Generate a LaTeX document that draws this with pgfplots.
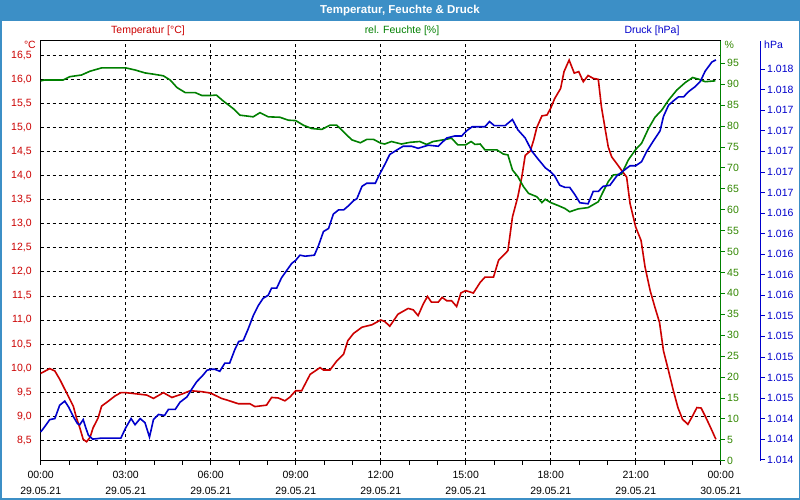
\documentclass[border=0pt]{standalone}
\usepackage{pgfplots}
\pgfplotsset{compat=1.18}
\usepackage{fontspec}
\setmainfont{Liberation Sans}

\definecolor{titleblue}{RGB}{60,143,198}
\definecolor{tred}{RGB}{204,0,0}
\definecolor{tgreen}{RGB}{0,128,0}
\definecolor{tgreenlbl}{RGB}{50,135,0}
\definecolor{tblue}{RGB}{0,0,204}
\newcommand\lf{\fontsize{10.5}{16}\selectfont}

\pgfplotsset{
  common/.style={
    at={(40.7pt,39.3pt)}, anchor=south west,
    scale only axis, height=420pt,
    ymajorgrids=false, xmajorgrids=false,
    tick align=outside,
    major tick length=4pt, minor tick length=4pt,
    tick label style={font=\lf},
    /pgf/number format/assume math mode=true,
    clip=false,
  },
}

\begin{document}
\begin{tikzpicture}[x=1pt,y=1pt]
\useasboundingbox (0,0) rectangle (800,500);
\fill[white] (0,0) rectangle (800,500);
\fill[titleblue] (0,479) rectangle (800,500);
\node[white, font=\bfseries\fontsize{11.5}{13}\selectfont] at (400,489.5) {Temperatur, Feuchte \& Druck};
\draw[titleblue, line width=1.5pt] (0.75,0.75) rectangle (799.25,499.25);

% temperature
\begin{axis}[common,
  width=680pt,
  xmin=0, xmax=24, ymin=8.076, ymax=16.803,
  axis line style={black, line width=1pt},
  xtick={0,3,...,24},
  minor xtick={1,2,4,5,7,8,10,11,13,14,16,17,19,20,22,23},
  xtick pos=left,
  xtick style={black, line width=0.8pt},
  xticklabels={{00:00\\29.05.21},{03:00\\29.05.21},{06:00\\29.05.21},{09:00\\29.05.21},{12:00\\29.05.21},{15:00\\29.05.21},{18:00\\29.05.21},{21:00\\29.05.21},{00:00\\30.05.21}},
  xticklabel style={align=center, yshift=-3pt},
  ytick={8.5,9,...,16.5},
  ytick style={draw=none},
  yticklabel style={text=tred, xshift=-1.5pt, /pgf/number format/.cd, fixed, fixed zerofill, precision=1, use comma},
  xmajorgrids=true, ymajorgrids=true,
  grid style={black, line width=0.8pt, dash pattern=on 3pt off 3pt},
]
\addplot[tred, line width=1.6pt] coordinates {
(0.00,9.89) (0.32,9.99) (0.50,9.94) (0.67,9.77) (0.91,9.49) (1.15,9.21) (1.26,8.97)
(1.38,8.76) (1.50,8.52) (1.62,8.47) (1.74,8.56) (1.85,8.76) (2.03,8.97) (2.15,9.21)
(2.38,9.31) (2.62,9.42) (2.83,9.49) (3.00,9.49) (3.45,9.46) (3.74,9.44) (3.98,9.37)
(4.33,9.49) (4.63,9.39) (4.98,9.46) (5.28,9.53) (5.69,9.51) (6.00,9.48)
(6.38,9.37) (6.61,9.33) (6.97,9.26) (7.38,9.26) (7.56,9.20) (7.97,9.23) (8.15,9.39)
(8.38,9.38) (8.62,9.32) (8.80,9.40) (9.00,9.53) (9.21,9.53) (9.51,9.87) (9.86,10.01)
(9.98,9.96) (10.21,9.96) (10.45,10.15) (10.69,10.29) (10.84,10.57) (11.04,10.72)
(11.34,10.85) (11.69,10.90) (12.00,11.00)
(12.14,10.97) (12.32,10.87) (12.61,11.12) (12.97,11.24) (13.15,11.21) (13.32,11.09)
(13.50,11.33) (13.65,11.49) (13.79,11.37) (14.03,11.37) (14.17,11.47) (14.33,11.40)
(14.50,11.40) (14.68,11.28) (14.83,11.56) (15.00,11.61) (15.27,11.56) (15.51,11.78)
(15.68,11.89) (15.98,11.89) (16.16,12.24) (16.49,12.44) (16.65,13.14) (16.84,13.56)
(16.98,13.97) (17.10,14.42) (17.28,14.51) (17.40,14.74) (17.51,15.00) (17.69,15.24)
(17.87,15.26) (18.00,15.40)
(18.14,15.60) (18.35,15.81) (18.47,16.16) (18.65,16.40) (18.83,16.13) (18.99,16.16)
(19.15,15.95) (19.32,16.08) (19.50,16.02) (19.68,16.00) (19.79,15.43) (19.91,15.01)
(20.03,14.60) (20.15,14.39) (20.33,14.25) (20.50,14.11) (20.68,13.97) (20.80,13.42)
(21.00,12.93) (21.19,12.65) (21.33,12.10) (21.51,11.61) (21.68,11.26) (21.84,10.95)
(21.98,10.36) (22.16,9.94) (22.33,9.53) (22.49,9.18) (22.65,8.94) (22.84,8.83)
(23.01,9.01) (23.16,9.18) (23.31,9.17) (23.48,8.97) (23.67,8.73) (23.83,8.52)
};
\end{axis}

% humidity
\begin{axis}[common,
  width=680pt,
  xmin=0, xmax=24, ymin=0, ymax=100.4,
  axis x line=none, axis y line*=right,
  y axis line style={tgreen, line width=1pt, -},
  ytick={0,5,...,95},
  ytick style={tgreen, line width=0.8pt},
  yticklabel style={text=tgreenlbl, xshift=-1pt},
]
\addplot[tgreen, line width=1.6pt] coordinates {
(0.00,90.8) (0.14,91.0) (0.79,91.0) (1.03,91.8) (1.44,92.2) (1.74,93.1) (2.15,93.9)
(3.00,93.9) (3.33,93.4) (3.68,92.7) (3.98,92.4) (4.33,92.0) (4.57,91.0) (4.81,89.2)
(5.10,88.0) (5.45,88.0) (5.69,87.3) (6.00,87.3)
(6.20,87.4) (6.44,86.0) (6.79,84.2) (7.03,82.6) (7.50,82.2) (7.74,83.2) (8.03,82.2)
(8.44,82.1) (8.74,81.4) (9.00,81.3) (9.27,80.2) (9.57,79.4) (9.92,79.2) (10.21,80.2)
(10.45,80.2) (10.69,78.6) (10.98,76.7) (11.28,76.0) (11.51,76.8) (11.75,76.8) (12.00,75.9)
(12.14,75.7) (12.38,76.3) (12.73,75.7) (13.03,76.1) (13.38,76.3) (13.62,75.6) (13.85,76.3)
(14.21,76.7) (14.50,77.1) (14.72,75.5) (15.00,75.5) (15.19,76.3) (15.33,75.6) (15.51,75.7)
(15.68,74.3) (16.10,74.3) (16.33,73.3) (16.49,73.1) (16.65,69.5) (16.84,67.9) (17.04,65.5)
(17.22,63.9) (17.51,63.1) (17.69,61.7) (17.81,62.5) (18.00,61.7)
(18.26,61.0) (18.50,60.3) (18.67,59.5) (18.97,60.2) (19.32,60.5) (19.68,61.9) (19.85,64.3)
(20.03,66.7) (20.21,68.3) (20.50,68.5) (20.74,71.9) (21.00,74.4) (21.21,75.9) (21.45,79.4)
(21.68,82.1) (21.92,83.8) (22.16,86.2) (22.45,88.6) (22.75,90.4) (23.01,91.6) (23.22,91.2)
(23.45,90.6) (23.81,90.8)
};
\end{axis}

% pressure (axis widened by 40pt so that its line sits at x=760)
\begin{axis}[common,
  width=720pt,
  xmin=0, xmax=25.41176, ymin=1013.99, ymax=1018.077,
  axis x line=none, axis y line*=right,
  y axis line style={tblue, line width=1pt, -},
  ytick={1014,1014.2,1014.4,1014.6,1014.8,1015,1015.2,1015.4,1015.6,1015.8,1016,1016.2,1016.4,1016.6,1016.8,1017,1017.2,1017.4,1017.6,1017.8},
  scaled y ticks=false,
  ytick style={tblue, line width=0.8pt},
  yticklabel style={text=tblue, xshift=-1pt, /pgf/number format/.cd, fixed, precision=0, 1000 sep={.}},
]
\addplot[tblue, line width=1.6pt] coordinates {
(0.00,1014.27) (0.14,1014.32) (0.32,1014.39) (0.50,1014.40) (0.67,1014.53) (0.85,1014.57)
(0.99,1014.51) (1.15,1014.42) (1.30,1014.35) (1.38,1014.34) (1.50,1014.39) (1.58,1014.32)
(1.68,1014.24) (1.83,1014.20) (2.15,1014.21) (2.83,1014.21) (3.00,1014.31) (3.19,1014.40)
(3.33,1014.34) (3.51,1014.40) (3.68,1014.36) (3.84,1014.22) (3.98,1014.39) (4.16,1014.44)
(4.37,1014.43) (4.51,1014.49) (4.75,1014.49) (4.92,1014.56) (5.16,1014.61) (5.34,1014.69)
(5.51,1014.76) (5.69,1014.81) (5.87,1014.87) (6.00,1014.88)
(6.14,1014.88) (6.32,1014.86) (6.50,1014.94) (6.67,1014.94) (6.85,1015.07) (6.99,1015.15)
(7.15,1015.16) (7.32,1015.27) (7.50,1015.40) (7.68,1015.50) (7.85,1015.57) (8.03,1015.60)
(8.15,1015.67) (8.33,1015.67) (8.50,1015.77) (8.68,1015.84) (8.86,1015.91) (9.00,1015.94)
(9.15,1015.99) (9.33,1015.98) (9.66,1015.99) (9.80,1016.08) (9.98,1016.22) (10.16,1016.25)
(10.33,1016.39) (10.51,1016.43) (10.69,1016.43) (10.86,1016.47) (11.04,1016.52)
(11.16,1016.54) (11.34,1016.66) (11.51,1016.69) (11.81,1016.69) (11.93,1016.76)
(12.14,1016.87) (12.32,1016.97) (12.55,1017.01) (12.79,1017.05) (13.09,1017.05)
(13.32,1017.03) (13.68,1017.06) (14.03,1017.05) (14.33,1017.13) (14.62,1017.15)
(14.86,1017.15) (15.03,1017.20) (15.23,1017.24) (15.68,1017.24) (15.84,1017.29)
(16.01,1017.25) (16.39,1017.25) (16.65,1017.31) (16.84,1017.21) (17.10,1017.13)
(17.34,1017.00) (17.57,1016.92) (17.81,1016.84) (18.00,1016.80)
(18.14,1016.76) (18.32,1016.67) (18.50,1016.65) (18.67,1016.65) (18.85,1016.58)
(19.03,1016.50) (19.32,1016.49) (19.50,1016.61) (19.68,1016.61) (19.85,1016.66)
(20.09,1016.67) (20.33,1016.76) (20.56,1016.81) (20.80,1016.86) (21.00,1016.86)
(21.21,1016.90) (21.39,1017.00) (21.62,1017.10) (21.86,1017.20) (21.98,1017.34)
(22.16,1017.45) (22.37,1017.50) (22.51,1017.53) (22.69,1017.53) (22.86,1017.58)
(23.10,1017.63) (23.28,1017.68) (23.45,1017.78) (23.69,1017.87) (23.83,1017.89)
};
\end{axis}

\node[text=tred, font=\lf] at (148,469) {Temperatur [°C]};
\node[text=tgreen, font=\lf] at (402,469) {rel. Feuchte [\%]};
\node[text=tblue, font=\lf] at (652,469) {Druck [hPa]};
\node[text=tred, font=\lf, anchor=east, inner sep=0pt] at (36,455) {°C};
\node[text=tgreenlbl, font=\lf, anchor=west, inner sep=0pt] at (724.5,455) {\%};
\node[text=tblue, font=\lf, anchor=west, inner sep=0pt] at (764,455) {hPa};
\end{tikzpicture}
\end{document}
